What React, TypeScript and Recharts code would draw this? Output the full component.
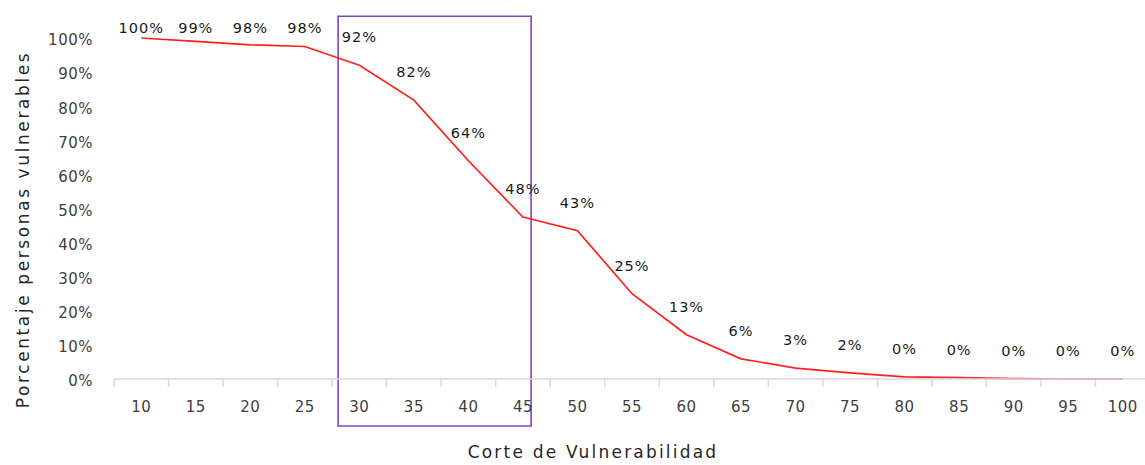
import React from "react";
import {
  LineChart,
  Line,
  XAxis,
  YAxis,
  LabelList,
  ReferenceLine,
  ReferenceArea,
  Label,
} from "recharts";

// Corte de vulnerabilidad (eje X)
const cortes: number[] = [10, 15, 20, 25, 30, 35, 40, 45, 50, 55, 60, 65, 70, 75, 80, 85, 90, 95, 100];
// Porcentaje de personas vulnerables
const porcentajes: number[] = [
  1.0, 0.99, 0.98, 0.975, 0.92, 0.818, 0.64, 0.475, 0.435, 0.25, 0.13, 0.059, 0.032, 0.018, 0.006, 0.004,
  0.001, 0, 0,
];
// Etiquetas tal como aparecen en el grafico
const etiquetas: string[] = [
  "100%", "99%", "98%", "98%", "92%", "82%", "64%", "48%", "43%", "25%", "13%", "6%", "3%", "2%", "0%",
  "0%", "0%", "0%", "0%",
];
const yTicks: number[] = [0, 0.1, 0.2, 0.3, 0.4, 0.5, 0.6, 0.7, 0.8, 0.9, 1];

// rango resaltado (cortes 30 a 45)
const rangoDesde = 30;
const rangoHasta = 45;

const FONT = "'DejaVu Sans', sans-serif";

export default function App() {
  const data = cortes.map((c, i) => ({ corte: c, valor: porcentajes[i] }));
  const paso = cortes[1] - cortes[0];
  const limites = [...cortes.map((c) => c - paso / 2), cortes[cortes.length - 1] + paso / 2];

  const DataLabel = (props: any) => {
    const { x, y, index } = props;
    const ty = Math.max(y - 28, 28);
    return (
      <text
        x={x}
        y={ty}
        textAnchor="middle"
        dominantBaseline="central"
        fontFamily={FONT}
        fontSize={14.5}
        letterSpacing={1}
        fill="#1a1a1a"
      >
        {etiquetas[index]}
      </text>
    );
  };

  return (
    <div
      style={{
        position: "absolute",
        left: 0,
        top: 0,
        width: 1145,
        height: 465,
        overflow: "hidden",
        background: "#fff",
      }}
    >
      <LineChart width={1165} height={465} data={data} margin={{ top: 38, right: 15, bottom: 0, left: 0 }}>
        <XAxis
          type="number"
          dataKey="corte"
          domain={[limites[0], limites[limites.length - 1]]}
          ticks={cortes}
          interval={0}
          tickLine={false}
          tickSize={0}
          tickMargin={22}
          height={86}
          axisLine={{ stroke: "#d9d9d9", strokeWidth: 1.5 }}
          tick={{ fontFamily: FONT, fontSize: 15, fill: "#404040", letterSpacing: 0.5 }}
        >
          <Label
            content={(p: any) => {
              const vb = p.viewBox;
              return (
                <text
                  x={vb.x + vb.width / 2 - 39}
                  y={vb.y + vb.height - 7}
                  textAnchor="middle"
                  fontFamily={FONT}
                  fontSize={17}
                  letterSpacing={2.2}
                  fill="#262626"
                >
                  Corte de Vulnerabilidad
                </text>
              );
            }}
          />
        </XAxis>
        <YAxis
          type="number"
          domain={[0, 1]}
          ticks={yTicks}
          interval={0}
          width={114}
          axisLine={false}
          tickLine={false}
          tickSize={0}
          tickMargin={21}
          tickFormatter={(v: number) => `${Math.round(v * 100)}%`}
          tick={{ fontFamily: FONT, fontSize: 15, fill: "#404040", letterSpacing: 0.5, dy: 2 }}
        >
          <Label
            content={(p: any) => {
              const vb = p.viewBox;
              const cy = vb.y + vb.height / 2 + 21;
              return (
                <text
                  x={0}
                  y={0}
                  transform={`translate(${vb.x + 23}, ${cy}) rotate(-90)`}
                  textAnchor="middle"
                  dominantBaseline="central"
                  fontFamily={FONT}
                  fontSize={17}
                  letterSpacing={2.6}
                  fill="#262626"
                >
                  Porcentaje personas vulnerables
                </text>
              );
            }}
          />
        </YAxis>
        {limites.map((b) => (
          <ReferenceLine
            key={b}
            segment={[
              { x: b, y: 0 },
              { x: b, y: -0.024 },
            ]}
            stroke="#d9d9d9"
            strokeWidth={1.5}
            ifOverflow="visible"
          />
        ))}
        <Line
          type="linear"
          dataKey="valor"
          stroke="#ff1f1f"
          strokeWidth={1.7}
          dot={false}
          activeDot={false}
          isAnimationActive={false}
        >
          <LabelList dataKey="valor" content={DataLabel} />
        </Line>
        <ReferenceArea
          x1={rangoDesde - 1.95}
          x2={rangoHasta + 0.75}
          y1={-0.138}
          y2={1.064}
          fill="none"
          fillOpacity={0}
          stroke="#7f45c2"
          strokeWidth={1.6}
          ifOverflow="visible"
        />
      </LineChart>
    </div>
  );
}
